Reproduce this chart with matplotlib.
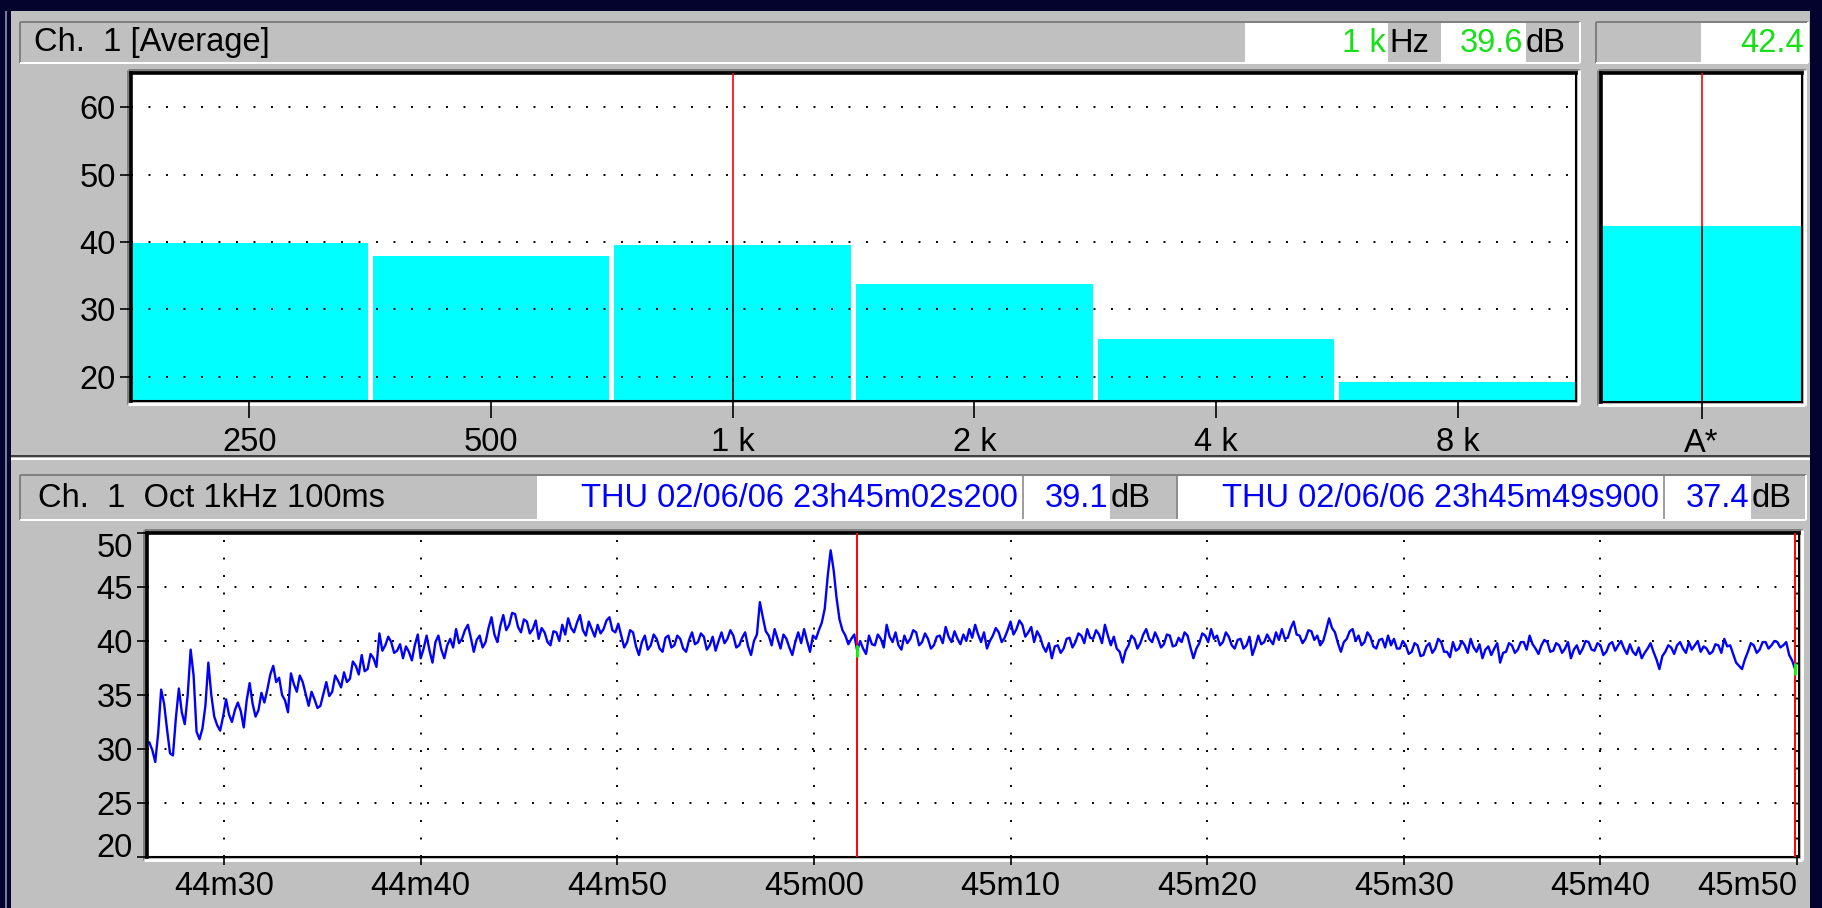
import numpy as np
import matplotlib.pyplot as plt
from matplotlib.patches import Rectangle
from matplotlib.lines import Line2D

plt.rcParams['font.family'] = ['Liberation Sans', 'DejaVu Sans']
plt.rcParams['font.size'] = 23.5

# Ch. 1 octave spectrum, averaged level per band (dB)
bands = ['250', '500', '1 k', '2 k', '4 k', '8 k']
band_levels = [39.9, 38.0, 39.6, 33.8, 25.6, 19.2]
cursor_band = 2
total_label = 'A*'
total_level = 42.4

# Ch. 1, 1 kHz octave, one reading every 0.15 s (time in s after 23h44m00)
t_first = 26.2
t_step = 0.15
level_1k = [
    30.6, 29.9, 28.8, 31.5, 35.5, 34.2, 31.8, 29.6, 29.4, 32.9, 35.6, 33.4, 32.3, 35.0, 39.2, 36.8, 31.6, 30.9, 31.9, 34.0,
    38.0, 35.0, 33.0, 32.2, 31.7, 33.0, 34.6, 33.2, 32.5, 33.6, 34.3, 33.5, 32.0, 34.5, 36.1, 34.2, 33.0, 33.6, 35.2, 34.3,
    35.5, 36.9, 37.7, 36.2, 36.6, 35.0, 34.5, 33.4, 37.0, 36.0, 35.3, 36.8, 36.2, 35.1, 34.0, 35.3, 34.6, 33.8, 34.0, 35.1,
    36.2, 34.9, 35.3, 36.8, 36.3, 35.7, 37.1, 36.2, 36.5, 38.1, 37.7, 36.9, 38.7, 37.2, 37.4, 38.8, 38.4, 37.6, 40.7, 39.1,
    39.6, 40.4, 39.9, 38.9, 39.1, 39.7, 38.4, 39.5, 39.0, 38.2, 39.6, 40.6, 38.4, 39.3, 40.5, 39.1, 38.0, 39.9, 40.5, 39.2,
    38.4, 39.6, 40.2, 39.4, 41.1, 39.8, 40.2, 41.0, 41.5, 40.3, 39.0, 40.1, 40.5, 39.4, 39.9, 41.2, 42.2, 40.6, 39.9, 41.4,
    42.4, 41.0, 41.5, 42.6, 42.5, 41.3, 40.8, 42.0, 41.8, 40.7, 41.1, 41.9, 40.2, 41.2, 40.8, 39.9, 39.6, 40.9, 40.8, 40.0,
    41.5, 40.6, 42.1, 41.2, 40.8, 41.7, 42.4, 41.0, 40.5, 41.8, 41.1, 40.4, 41.5, 40.7, 41.1, 41.9, 42.2, 41.0, 40.8, 41.6,
    40.5, 39.4, 39.9, 41.0, 40.8, 39.5, 38.7, 39.9, 40.5, 39.2, 39.6, 40.6, 40.2, 39.3, 39.0, 40.3, 40.5, 39.4, 39.6, 40.5,
    40.2, 39.3, 39.0, 40.1, 40.8, 39.7, 39.9, 40.7, 40.4, 39.2, 39.6, 40.4, 39.1, 40.0, 40.8, 39.8, 40.2, 41.0, 40.5, 39.4,
    39.6, 40.3, 40.8, 39.5, 38.7, 40.0, 40.6, 43.6, 42.2, 40.9, 40.5, 39.6, 41.1, 40.2, 39.3, 40.6, 40.2, 39.4, 38.7, 39.9,
    40.8, 39.8, 41.1, 40.0, 39.0, 40.5, 40.2, 41.0, 41.7, 43.0, 46.0, 48.4, 46.6, 44.0, 42.0, 41.0, 40.5, 39.7, 40.2, 40.6,
    39.1, 40.0, 39.3, 38.8, 40.5, 39.7, 39.6, 40.6, 40.2, 39.4, 41.5, 40.4, 39.9, 40.8, 39.6, 39.2, 40.5, 39.8, 40.2, 41.0,
    40.8, 39.6, 39.9, 40.7, 40.2, 39.3, 39.6, 40.4, 40.5, 39.8, 41.3, 40.4, 39.9, 40.9, 40.2, 39.7, 40.6, 40.0, 41.1, 40.3,
    41.5, 40.6, 39.9, 40.8, 39.3, 40.0, 40.5, 41.2, 40.8, 39.9, 40.3, 41.0, 41.8, 40.6, 41.1, 41.9, 41.5, 40.4, 40.8, 41.3,
    39.9, 40.9, 40.4, 39.5, 39.0, 39.8, 38.4, 39.5, 39.6, 38.9, 39.3, 40.2, 40.3, 39.4, 39.9, 40.7, 40.5, 39.8, 41.1, 40.3,
    40.2, 41.0, 40.6, 39.8, 41.5, 40.5, 39.6, 40.4, 39.3, 39.0, 38.0, 39.1, 39.6, 40.5, 40.2, 39.3, 39.8, 40.6, 41.1, 40.2,
    39.9, 40.8, 40.2, 39.4, 39.7, 40.6, 40.5, 39.5, 39.6, 40.3, 39.9, 40.8, 40.5, 39.4, 38.4, 39.3, 39.8, 40.7, 40.5, 39.9,
    41.1, 40.2, 40.5, 39.6, 39.9, 40.8, 40.4, 39.6, 39.3, 40.1, 40.2, 39.3, 39.6, 40.4, 38.7, 39.5, 40.5, 39.7, 39.9, 40.6,
    40.1, 39.7, 40.8, 40.1, 41.1, 40.2, 40.3, 41.2, 41.8, 40.6, 40.5, 39.8, 40.2, 41.0, 40.9, 40.1, 40.5, 39.6, 40.0, 41.0,
    42.1, 41.2, 40.8, 39.8, 39.0, 39.9, 40.2, 40.9, 41.1, 40.0, 40.5, 39.6, 39.9, 40.8, 40.4, 39.5, 39.3, 40.1, 40.2, 39.4,
    40.5, 39.6, 40.2, 39.3, 39.3, 40.0, 39.6, 38.8, 39.0, 39.8, 39.6, 38.6, 38.7, 39.5, 39.8, 38.9, 39.3, 40.2, 39.9, 39.0,
    39.0, 38.5, 39.9, 39.1, 39.3, 40.0, 39.6, 38.9, 40.2, 39.4, 39.0, 39.7, 38.4, 39.2, 39.5, 38.7, 39.3, 39.8, 38.0, 38.9,
    39.0, 39.8, 39.6, 38.9, 39.2, 39.9, 39.9, 39.2, 40.5, 39.7, 39.3, 38.8, 39.6, 40.1, 39.9, 39.0, 39.1, 39.8, 39.6, 38.9,
    39.3, 39.9, 38.4, 39.2, 39.6, 38.8, 39.3, 40.0, 39.9, 39.2, 39.1, 39.8, 39.6, 38.7, 39.0, 39.7, 39.9, 39.1, 39.6, 40.0,
    39.3, 38.8, 39.7, 39.0, 38.7, 39.4, 38.4, 38.9, 39.3, 39.8, 39.0, 38.3, 37.4, 38.6, 39.0, 39.6, 39.4, 38.8, 39.6, 39.9,
    39.3, 38.9, 39.9, 39.2, 39.6, 40.0, 39.0, 39.5, 39.3, 38.8, 39.0, 39.7, 39.6, 38.9, 40.2, 39.5, 39.6, 38.8, 38.0, 37.7,
    37.4, 38.3, 39.0, 39.8, 39.6, 38.9, 39.2, 39.9, 39.9, 39.3, 39.6, 40.0, 39.9, 39.4, 39.6, 39.9, 38.7, 38.2, 37.4,
]
cursor_a = 240
cursor_b = 558
date_str = 'THU 02/06/06'
time_ticks = [30, 40, 50, 60, 70, 80, 90, 100, 110]
time_labels = ['44m30', '44m40', '44m50', '45m00', '45m10',
               '45m20', '45m30', '45m40', '45m50']

W, H = 1822, 908
NAVY = '#03032e'
GRAY = '#c0c0c0'
DARK = '#808080'
GREEN = '#18e018'
BLUE = '#0000ff'
CYAN = '#00ffff'


def stamp(t):
    tenths = int(round(t * 10))
    return '23h%02dm%02ds%03d' % (44 + tenths // 600, (tenths % 600) // 10,
                                  (tenths % 10) * 100)


fig = plt.figure(figsize=(W / 100, H / 100), dpi=100, facecolor=NAVY)


# helpers working in screen pixels, y counted from the top
def fill(x0, y0, x1, y1, color, z=-2):
    fig.add_artist(Rectangle((x0 / W, 1 - y1 / H), (x1 - x0) / W, (y1 - y0) / H,
                             transform=fig.transFigure, facecolor=color,
                             edgecolor='none', zorder=z))


def seg(xs, ys, color, lw=2, z=-1):
    fig.add_artist(Line2D([x / W for x in xs], [1 - y / H for y in ys],
                          transform=fig.transFigure, color=color,
                          linewidth=lw * 0.72, solid_capstyle='butt', zorder=z))


def sunken(x0, y0, x1, y1, lw=2, z=-1):
    seg([x0, x1], [y0, y0], DARK, lw, z)
    seg([x0, x0], [y0, y1], DARK, lw, z)
    seg([x0, x1], [y1, y1], 'white', lw, z)
    seg([x1, x1], [y0, y1], 'white', lw, z)


def label(x, y, s, color='black', ha='left'):
    fig.text(x / W, 1 - y / H, s, color=color, ha=ha, va='center',
             fontsize=23.5)


def frame_axes(x0, y0, x1, y1):
    ax = fig.add_axes([x0 / W, 1 - y1 / H, (x1 - x0) / W, (y1 - y0) / H])
    ax.set_facecolor('white')
    for side in ['left', 'top']:
        ax.spines[side].set_linewidth(2.6)
    for side in ['right', 'bottom']:
        ax.spines[side].set_linewidth(1.5)
    sunken(x0 - 3, y0 - 3, x1 + 3, y1 + 3, lw=3)
    return ax


# panels
fill(11, 11, 1810, 908, GRAY)
seg([6, 6], [11, 908], '#7a7a9a', 2)
seg([11, 1810], [456, 456], '#404040', 2)
seg([11, 1810], [459, 459], 'white', 2)

# header of the spectrum panel
fill(1245, 22, 1388, 62, 'white')
fill(1441, 22, 1526, 62, 'white')
fill(1701, 22, 1808, 62, 'white')
sunken(20, 22, 1580, 63)
sunken(1596, 22, 1808, 63)
label(34, 43, 'Ch.  1 [Average]')
label(1386, 43, bands[cursor_band], GREEN, 'right')
label(1389, 43, 'Hz')
label(1523, 43, '%.1f' % band_levels[cursor_band], GREEN, 'right')
label(1526, 43, 'dB')
label(1804, 43, '%.1f' % total_level, GREEN, 'right')

# header of the time panel
times = t_first + t_step * np.arange(len(level_1k))
fill(537, 476, 1110, 519, 'white')
fill(1178, 476, 1751, 519, 'white')
sunken(20, 475, 1806, 520)
seg([1023, 1023], [476, 519], DARK, 1.5)
seg([1664, 1664], [476, 519], DARK, 1.5)
seg([1177, 1177], [476, 519], DARK, 1.5)
label(38, 498, 'Ch.  1  Oct 1kHz 100ms')
label(1018, 498, '%s %s' % (date_str, stamp(times[cursor_a])), BLUE, 'right')
label(1108, 498, '%.1f' % level_1k[cursor_a], BLUE, 'right')
label(1111, 498, 'dB')
label(1659, 498, '%s %s' % (date_str, stamp(times[cursor_b])), BLUE, 'right')
label(1749, 498, '%.1f' % level_1k[cursor_b], BLUE, 'right')
label(1752, 498, 'dB')

dots = (0, (1, 8))
y_lo, y_hi = 16.4, 65.1

# octave band bars
ax_bar = frame_axes(131, 73, 1576, 401)
x = np.arange(len(bands))
ax_bar.bar(x, band_levels, width=0.98, color=CYAN, zorder=1)
ax_bar.set_xlim(-0.49, len(bands) - 0.51)
ax_bar.set_ylim(y_lo, y_hi)
ax_bar.set_yticks([20, 30, 40, 50, 60])
ax_bar.set_xticks(x)
ax_bar.set_xticklabels(bands)
ax_bar.set_axisbelow(False)
ax_bar.yaxis.grid(True, color='black', linestyle=dots, linewidth=1.4)
ax_bar.vlines(cursor_band, y_lo, band_levels[cursor_band], color='black',
              linewidth=1.2, zorder=3)
ax_bar.vlines(cursor_band, band_levels[cursor_band], y_hi, color='red',
              linewidth=1.2, zorder=3)
ax_bar.tick_params(axis='y', direction='out', length=8, width=1.2, pad=3,
                   labelsize=23.5)
ax_bar.tick_params(axis='x', direction='out', length=12, width=1.2, pad=7,
                   labelsize=23.5)

# overall weighted level
ax_tot = frame_axes(1601, 73, 1802, 402)
ax_tot.bar([0], [total_level], width=1.0, color=CYAN, zorder=1)
ax_tot.set_xlim(-0.5, 0.5)
ax_tot.set_ylim(y_lo, y_hi)
ax_tot.set_yticks([])
ax_tot.set_xticks([0])
ax_tot.set_xticklabels([total_label])
ax_tot.vlines(0, y_lo, total_level, color='black', linewidth=1.2, zorder=3)
ax_tot.vlines(0, total_level, y_hi, color='red', linewidth=1.2, zorder=3)
ax_tot.tick_params(axis='x', direction='out', length=12, width=1.2, pad=7,
                   labelsize=23.5)

# level versus time
ax_t = frame_axes(147, 533, 1799, 857)
ax_t.plot(times, level_1k, color=BLUE, linewidth=1.7, zorder=2)
ax_t.set_xlim(26.08, 110.1)
ax_t.set_ylim(20, 50)
ax_t.set_yticks([20, 25, 30, 35, 40, 45, 50])
ax_t.set_xticks(time_ticks)
ax_t.set_xticklabels(time_labels)
ax_t.grid(True, color='black', linestyle=dots, linewidth=1.4)
for i in (cursor_a, cursor_b):
    ax_t.axvline(times[i], color='red', linewidth=1.4, zorder=3)
    ax_t.plot([times[i]], [level_1k[i]], marker='|', color='#00ff00',
              markersize=9, markeredgewidth=2, zorder=4)
ax_t.tick_params(axis='y', direction='out', length=7, width=1.2, pad=3,
                 labelsize=23.5)
ax_t.tick_params(axis='x', direction='out', length=6, width=1.2, pad=4,
                 labelsize=23.5)
yt = ax_t.yaxis.get_major_ticks()
yt[0].label1.set_va('baseline')
yt[-1].label1.set_va('top')
ax_t.xaxis.get_major_ticks()[-1].label1.set_ha('right')

fig.savefig('out.png', dpi=100, facecolor=NAVY)
